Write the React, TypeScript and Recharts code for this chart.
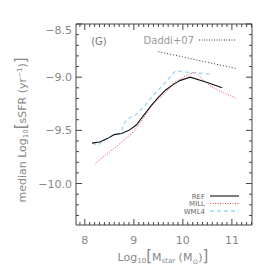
import React from 'react';
import { LineChart, Line, XAxis, YAxis } from 'recharts';

// REF (black solid)
const refMass = [8.15, 8.3, 8.45, 8.6, 8.75, 8.9, 9.05, 9.2, 9.35, 9.5, 9.65, 9.8, 9.95, 10.15, 10.5, 10.8];
const refSsfr = [-9.62, -9.61, -9.58, -9.54, -9.53, -9.5, -9.45, -9.36, -9.27, -9.19, -9.12, -9.07, -9.03, -9.0, -9.05, -9.1];

// MILL (red dotted)
const millMass = [8.22, 8.4, 8.6, 8.8, 9.0, 9.2, 9.4, 9.55, 9.7, 9.85, 10.05, 10.25, 10.4, 10.55, 10.8, 11.1];
const millSsfr = [-9.81, -9.74, -9.67, -9.59, -9.51, -9.38, -9.24, -9.19, -9.12, -9.04, -8.99, -8.95, -9.02, -9.08, -9.14, -9.2];

// WML4 (light blue dashed)
const wmlMass = [8.15, 8.26, 8.4, 8.6, 8.72, 8.82, 8.92, 9.05, 9.2, 9.4, 9.6, 9.85, 10.2, 10.6];
const wmlSsfr = [-9.62, -9.64, -9.59, -9.54, -9.53, -9.42, -9.38, -9.35, -9.28, -9.17, -9.07, -8.94, -8.96, -8.97];

// Daddi+07 relation (dotted)
const daddiMass = [9.5, 11.1];
const daddiSsfr = [-8.76, -8.92];

const xTickLabels = [8, 9, 10, 11];
const yTickLabels = [-10.0, -9.5, -9.0, -8.5];

const toData = (xs: number[], ys: number[]) => xs.map((x, i) => ({ x, y: ys[i] }));
const refData = toData(refMass, refSsfr);
const millData = toData(millMass, millSsfr);
const wmlData = toData(wmlMass, wmlSsfr);
const daddiData = toData(daddiMass, daddiSsfr);

const xMinor: number[] = [];
for (let i = 79; i <= 114; i++) xMinor.push(i / 10);
const yMinor: number[] = [];
for (let i = -103; i <= -85; i++) yMinor.push(i / 10);

const AX = '#444';
const TXT = '#888';
const FONT = 'DejaVu Sans, sans-serif';

const isMajor = (v: number, step: number) => Math.abs(v / step - Math.round(v / step)) < 1e-6;

const fmt = (v: number) => (v < 0 ? '\u2212' : '') + Math.abs(v).toFixed(1);

const XTick = (props: any) => {
  const { x, y, payload, side } = props;
  const v = payload.value;
  const major = isMajor(v, 1);
  const len = major ? 6 : 3;
  const dir = side === 'bottom' ? -1 : 1;
  return (
    <g>
      <line x1={x} x2={x} y1={y} y2={y + dir * len} stroke={AX} strokeWidth={1} />
      {side === 'bottom' && major && xTickLabels.includes(Math.round(v)) && (
        <text x={x} y={y + 19} textAnchor="middle" fontSize={11} fill={TXT} fontFamily={FONT}>
          {String(Math.round(v))}
        </text>
      )}
    </g>
  );
};

const YTick = (props: any) => {
  const { x, y, payload, side } = props;
  const v = payload.value;
  const major = isMajor(v, 0.5);
  const len = major ? 6 : 3;
  const dir = side === 'left' ? 1 : -1;
  const showLabel = side === 'left' && major && yTickLabels.some((t) => Math.abs(t - v) < 1e-6);
  const ly = Math.max(y, 30);
  return (
    <g>
      <line x1={x} x2={x + dir * len} y1={y} y2={y} stroke={AX} strokeWidth={1} />
      {showLabel && (
        <text x={x - 4} y={ly + 4} textAnchor="end" fontSize={11} fill={TXT} fontFamily={FONT}>
          {fmt(v)}
        </text>
      )}
    </g>
  );
};

export default function App() {
  return (
    <div style={{ position: 'absolute', left: 0, top: 0, background: '#fff' }}>
      <LineChart width={274} height={274} margin={{ top: 0, right: 0, bottom: 0, left: 0 }}>
        <XAxis
          xAxisId="b"
          type="number"
          dataKey="x"
          domain={[7.82, 11.41]}
          allowDataOverflow
          orientation="bottom"
          height={49}
          ticks={xMinor}
          interval={0}
          tickSize={0}
          tickMargin={0}
          tickLine={false}
          axisLine={{ stroke: AX }}
          tick={<XTick side="bottom" />}
        />
        <XAxis
          xAxisId="t"
          type="number"
          dataKey="x"
          domain={[7.82, 11.41]}
          allowDataOverflow
          orientation="top"
          height={24}
          ticks={xMinor}
          interval={0}
          tickSize={0}
          tickMargin={0}
          tickLine={false}
          axisLine={{ stroke: AX }}
          tick={<XTick side="top" />}
        />
        <YAxis
          yAxisId="l"
          type="number"
          dataKey="y"
          domain={[-10.39, -8.5]}
          allowDataOverflow
          orientation="left"
          width={76}
          ticks={yMinor}
          interval={0}
          tickSize={0}
          tickMargin={0}
          tickLine={false}
          axisLine={{ stroke: AX }}
          tick={<YTick side="left" />}
        />
        <YAxis
          yAxisId="r"
          type="number"
          dataKey="y"
          domain={[-10.39, -8.5]}
          allowDataOverflow
          orientation="right"
          width={22}
          ticks={yMinor}
          interval={0}
          tickSize={0}
          tickMargin={0}
          tickLine={false}
          axisLine={{ stroke: AX }}
          tick={<YTick side="right" />}
        />
        <Line xAxisId="b" yAxisId="l" data={daddiData} dataKey="y" stroke="#333" strokeWidth={1} strokeDasharray="1 2" dot={false} isAnimationActive={false} />
        <Line xAxisId="b" yAxisId="l" data={wmlData} dataKey="y" stroke="#9fd8f0" strokeWidth={1.3} strokeDasharray="4 3" dot={false} isAnimationActive={false} />
        <Line xAxisId="b" yAxisId="l" data={millData} dataKey="y" stroke="#f05050" strokeWidth={1} strokeDasharray="1 1.5" dot={false} isAnimationActive={false} />
        <Line xAxisId="b" yAxisId="l" data={refData} dataKey="y" stroke="#111" strokeWidth={1.1} dot={false} isAnimationActive={false} />

        <text x={99} y={45} textAnchor="middle" fontSize={10} fill="#777" fontFamily={FONT}>(G)</text>

        <text x={194} y={44} textAnchor="end" fontSize={10} fill="#999" fontFamily={FONT}>Daddi+07</text>
        <line x1={199} x2={236} y1={40} y2={40} stroke="#333" strokeWidth={1} strokeDasharray="1 1.5" />

        <text x={205} y={198.5} textAnchor="end" fontSize={7} fill="#666" fontFamily={FONT}>REF</text>
        <line x1={210} x2={239} y1={196} y2={196} stroke="#111" strokeWidth={1.1} />
        <text x={205} y={206} textAnchor="end" fontSize={7} fill="#666" fontFamily={FONT}>MILL</text>
        <line x1={210} x2={239} y1={203.5} y2={203.5} stroke="#f05050" strokeWidth={1} strokeDasharray="1 1.5" />
        <text x={205} y={213.5} textAnchor="end" fontSize={7} fill="#666" fontFamily={FONT}>WML4</text>
        <line x1={210} x2={239} y1={211} y2={211} stroke="#9fd8f0" strokeWidth={1.3} strokeDasharray="4 3" />

        <text x={163} y={261} textAnchor="middle" fontSize={11} fill={TXT} fontFamily={FONT}>
          Log<tspan fontSize={7} dy={2}>10</tspan>
          <tspan fontSize={15} dy={-2}>[</tspan>M<tspan fontSize={7} dy={2}>star</tspan>
          <tspan dy={-2}> (M</tspan><tspan fontSize={7} dy={3}>{'\u2299'}</tspan>
          <tspan dy={-3}>)</tspan><tspan fontSize={15}>]</tspan>
        </text>

        <text x={0} y={0} transform="translate(26,130) rotate(-90)" textAnchor="middle" fontSize={11} fill={TXT} fontFamily={FONT}>
          median Log<tspan fontSize={7} dy={2}>10</tspan>
          <tspan fontSize={15} dy={-2}>[</tspan>sSFR (yr<tspan fontSize={7} dy={-4}>{'\u22121'}</tspan>
          <tspan dy={4}>)</tspan><tspan fontSize={15}>]</tspan>
        </text>
      </LineChart>
    </div>
  );
}
